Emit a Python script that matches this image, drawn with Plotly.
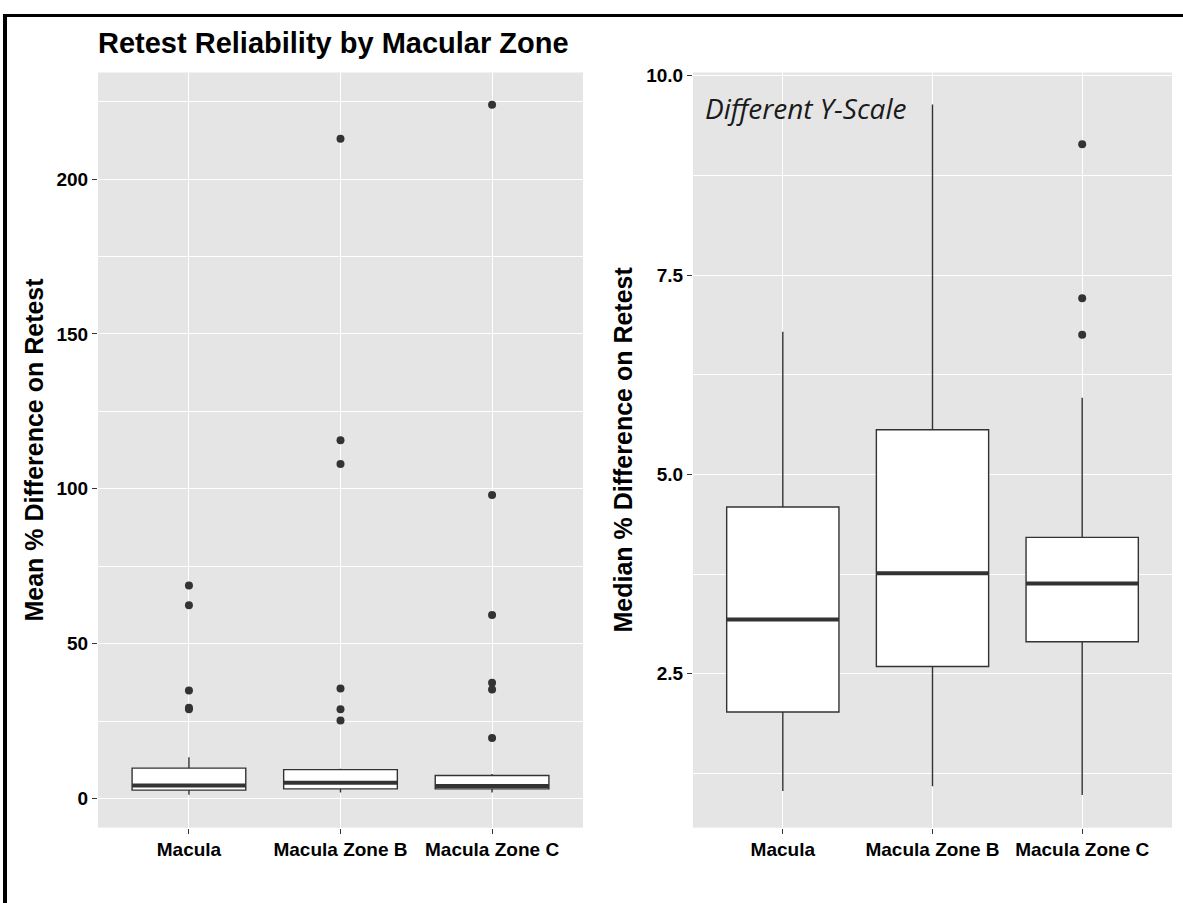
import plotly.graph_objects as go

# ---- data ----------------------------------------------------------------
zones = ["Macula", "Macula Zone B", "Macula Zone C"]

# Mean % difference on retest: box summary per zone
mean_lower = [1.2, 1.9, 1.9]
mean_q1 = [2.7, 3.1, 3.1]
mean_median = [4.2, 5.1, 4.0]
mean_q3 = [9.8, 9.3, 7.4]
mean_upper = [13.3, 9.6, 7.9]
mean_outliers = [
    [68.8, 62.4, 34.9, 29.3, 28.8],
    [213.0, 115.7, 108.0, 35.5, 28.8, 25.2],
    [224.0, 98.0, 59.2, 37.4, 35.2, 19.5],
]

# Median % difference on retest: box summary per zone
med_lower = [1.03, 1.09, 0.98]
med_q1 = [2.02, 2.59, 2.90]
med_median = [3.18, 3.76, 3.63]
med_q3 = [4.59, 5.56, 4.21]
med_upper = [6.79, 9.64, 5.96]
med_outliers = [
    [],
    [],
    [9.14, 7.21, 6.75],
]

# ---- styling -------------------------------------------------------------
W, H = 1183, 903
PANEL_BG = "#E5E5E5"
DARK = "#333333"
FONT = "Liberation Sans"
BOX_W = 0.75
pos = list(range(len(zones)))


def px_x(p):
    return p / W


def px_y(p):
    return 1 - p / H


fig = go.Figure()


def add_panel(xa, ya, lower, q1, med, q3, upper, outliers):
    fig.add_trace(go.Box(
        x=pos, q1=q1, median=med, q3=q3, lowerfence=lower, upperfence=upper,
        width=BOX_W, whiskerwidth=0, fillcolor="white",
        line=dict(color=DARK, width=1.4), boxpoints=False,
        xaxis=xa, yaxis=ya, showlegend=False, hoverinfo="skip",
    ))
    # thicker median bars
    mx, my = [], []
    for p, m in zip(pos, med):
        mx += [p - BOX_W / 2, p + BOX_W / 2, None]
        my += [m, m, None]
    fig.add_trace(go.Scatter(
        x=mx, y=my, mode="lines", line=dict(color=DARK, width=4),
        xaxis=xa, yaxis=ya, showlegend=False, hoverinfo="skip",
    ))
    ox, oy = [], []
    for p, vals in zip(pos, outliers):
        ox += [p] * len(vals)
        oy += vals
    fig.add_trace(go.Scatter(
        x=ox, y=oy, mode="markers",
        marker=dict(color=DARK, size=8, line=dict(width=0)),
        xaxis=xa, yaxis=ya, showlegend=False, hoverinfo="skip",
    ))


add_panel("x", "y", mean_lower, mean_q1, mean_median, mean_q3, mean_upper, mean_outliers)
add_panel("x2", "y2", med_lower, med_q1, med_median, med_q3, med_upper, med_outliers)

tickfont = dict(family=FONT, size=19, color="black", weight="bold")
xcommon = dict(
    range=[-0.6, len(zones) - 0.4], tickmode="array", tickvals=pos, ticktext=zones,
    showgrid=True, gridcolor="white", gridwidth=1.2, zeroline=False,
    ticks="outside", ticklen=5, tickcolor=DARK, tickwidth=1.2,
    tickfont=tickfont, showline=False,
)
ycommon = dict(
    showgrid=True, gridcolor="white", gridwidth=1.2, zeroline=False,
    ticks="outside", ticklen=5, tickcolor=DARK, tickwidth=1.2,
    tickfont=tickfont, showline=False, tick0=0,
)

ydom = [px_y(827), px_y(66)]
fig.update_layout(
    width=W, height=H, margin=dict(l=0, r=0, t=0, b=0),
    paper_bgcolor="white", plot_bgcolor=PANEL_BG,
    xaxis=dict(domain=[px_x(98), px_x(583)], anchor="y", **xcommon),
    yaxis=dict(domain=ydom, anchor="x", range=[-9.4, 234.4], dtick=50,
               minor=dict(dtick=25, showgrid=True, gridcolor="white", gridwidth=0.6),
               **ycommon),
    xaxis2=dict(domain=[px_x(693), px_x(1172)], anchor="y2", **xcommon),
    yaxis2=dict(domain=ydom, anchor="x2", range=[0.57, 10.04], dtick=2.5,
                tickformat=".1f",
                minor=dict(dtick=1.25, showgrid=True, gridcolor="white", gridwidth=0.6),
                **ycommon),
    font=dict(family=FONT, color="black"),
)

annotations = [
    dict(text="<b>Retest Reliability by Macular Zone</b>", x=px_x(96), y=px_y(36),
         xref="paper", yref="paper", xanchor="left", yanchor="middle", showarrow=False,
         font=dict(family=FONT, size=29, color="black")),
    dict(text="<b>Mean % Difference on Retest</b>", x=px_x(34), y=px_y(446),
         xref="paper", yref="paper", xanchor="center", yanchor="middle", showarrow=False,
         textangle=-90, font=dict(family=FONT, size=25, color="black")),
    dict(text="<b>Median % Difference on Retest</b>", x=px_x(623), y=px_y(446),
         xref="paper", yref="paper", xanchor="center", yanchor="middle", showarrow=False,
         textangle=-90, font=dict(family=FONT, size=25, color="black")),
    dict(text="<i>Different Y-Scale</i>", x=px_x(703), y=px_y(102),
         xref="paper", yref="paper", xanchor="left", yanchor="middle", showarrow=False,
         font=dict(family="Open Sans", size=28, color="#1a1a1a")),
]
fig.update_layout(annotations=annotations)

# frame lines along the top and left edges
fig.add_shape(type="rect", xref="paper", yref="paper", x0=px_x(3), x1=1, y0=px_y(10), y1=px_y(7),
              fillcolor="black", line=dict(width=0), layer="above")
fig.add_shape(type="rect", xref="paper", yref="paper", x0=px_x(3), x1=px_x(7), y0=0, y1=px_y(7),
              fillcolor="black", line=dict(width=0), layer="above")

fig.write_html("out.html")
